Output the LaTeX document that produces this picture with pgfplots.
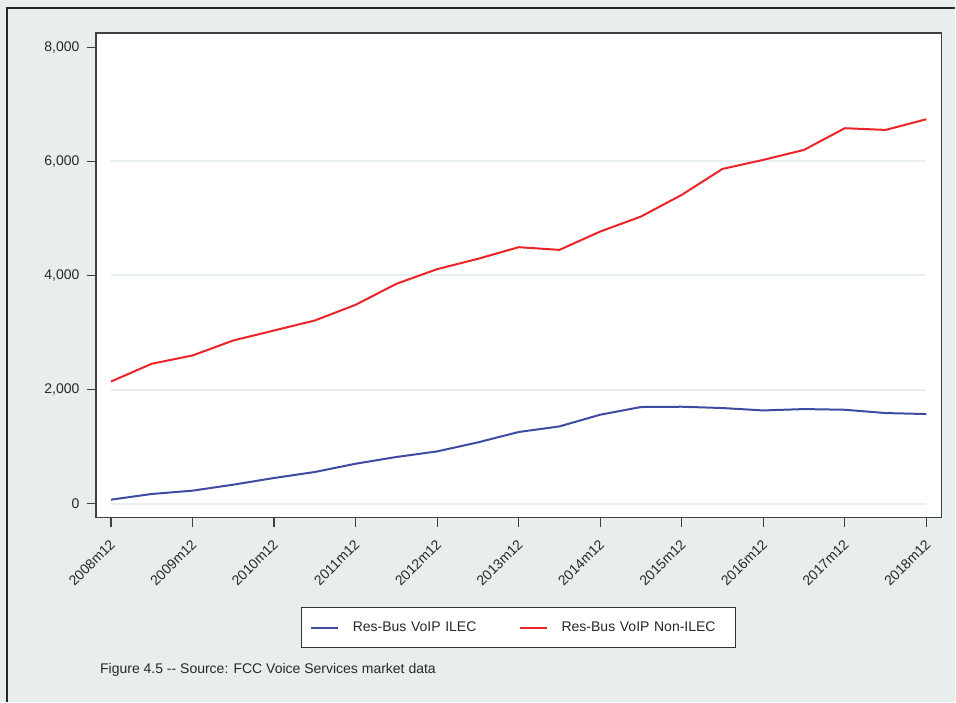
\documentclass[border=0pt]{standalone}
\usepackage{pgfplots}
\pgfplotsset{compat=1.18}
\usepackage{fontspec}
\setmainfont{Liberation Sans}

\definecolor{bgcol}{RGB}{232,238,238}
\definecolor{gridcol}{RGB}{232,239,240}
\definecolor{framecol}{RGB}{64,64,64}
\definecolor{ilec}{RGB}{62,75,160}
\definecolor{nonilec}{RGB}{236,36,40}
\definecolor{txt}{RGB}{40,40,40}

\begin{document}
\begin{tikzpicture}
% page background and outer border
\fill[bgcol] (0,0) rectangle (956bp,-702bp);
\draw[black!85, line width=1.3bp] (7bp,-702bp) -- (7bp,-8bp) -- (956bp,-8bp);

\begin{axis}[
  at={(96bp,-33bp)}, anchor=north west,
  width=846bp, height=485bp, scale only axis,
  xmin=-0.368, xmax=20.368,
  ymin=-245, ymax=8249,
  axis background/.style={fill=white},
  axis line style={framecol, line width=1.5bp},
  tick style={framecol, line width=1.2bp},
  tick align=outside, major tick length=9bp,
  xtick={0,2,...,20},
  xticklabels={2008m12,2009m12,2010m12,2011m12,2012m12,2013m12,2014m12,2015m12,2016m12,2017m12,2018m12},
  xtick pos=bottom, ytick pos=left,
  ytick={0,2000,4000,6000,8000},
  /pgf/number format/assume math mode=true,
  /pgf/number format/1000 sep={,},
  ticklabel style={font=\fontsize{14bp}{16bp}\selectfont, text=txt},
  xticklabel style={xshift=4bp, yshift=-13bp, rotate=45, anchor=east},
  yticklabel style={xshift=-4bp},
  legend style={at={(0.5,-0.2268)}, anchor=center, draw=black!80, line width=1.2bp,
    fill=white, font=\fontsize{14bp}{16bp}\selectfont, text=txt,
    inner xsep=8bp, inner ysep=12.5bp,
    /tikz/every odd column/.append style={column sep=12bp},
    /tikz/every even column/.append style={column sep=12bp}},
  legend columns=2, legend cell align=left,
  legend image code/.code={\draw[#1, line width=2bp] (0bp,0bp) -- (27bp,0bp);},
  clip=false,
]
% horizontal grid over the data range
\foreach \g in {0,2000,4000,6000}{
  \edef\tmp{\noexpand\draw[gridcol, line width=2bp] (axis cs:0,\g) -- (axis cs:20,\g);}
  \tmp
}

\addplot[ilec, line width=2bp] coordinates {
(0,70) (1,170) (2,228) (3,333) (4,450) (5,555) (6,700) (7,818) (8,916) (9,1074)
(10,1256) (11,1354) (12,1559) (13,1694) (14,1699) (15,1676) (16,1634) (17,1658)
(18,1646) (19,1588) (20,1571)};
\addlegendentry[text width=152bp]{Res-Bus VoIP ILEC}

\addplot[nonilec, line width=2bp] coordinates {
(0,2140) (1,2452) (2,2597) (3,2860) (4,3035) (5,3210) (6,3485) (7,3853) (8,4110)
(9,4291) (10,4495) (11,4448) (12,4769) (13,5032) (14,5412) (15,5867) (16,6025)
(17,6200) (18,6580) (19,6550) (20,6737)};
\addlegendentry[text width=164bp]{Res-Bus VoIP Non-ILEC}
\end{axis}

\node[anchor=west, font=\fontsize{14bp}{16bp}\selectfont, text=txt, inner sep=0pt]
  at (100bp,-670bp) {Figure 4.5 -{}- Source: FCC Voice Services market data};

\path[use as bounding box] (0,0) rectangle (956bp,-702bp);
\end{tikzpicture}
\end{document}
